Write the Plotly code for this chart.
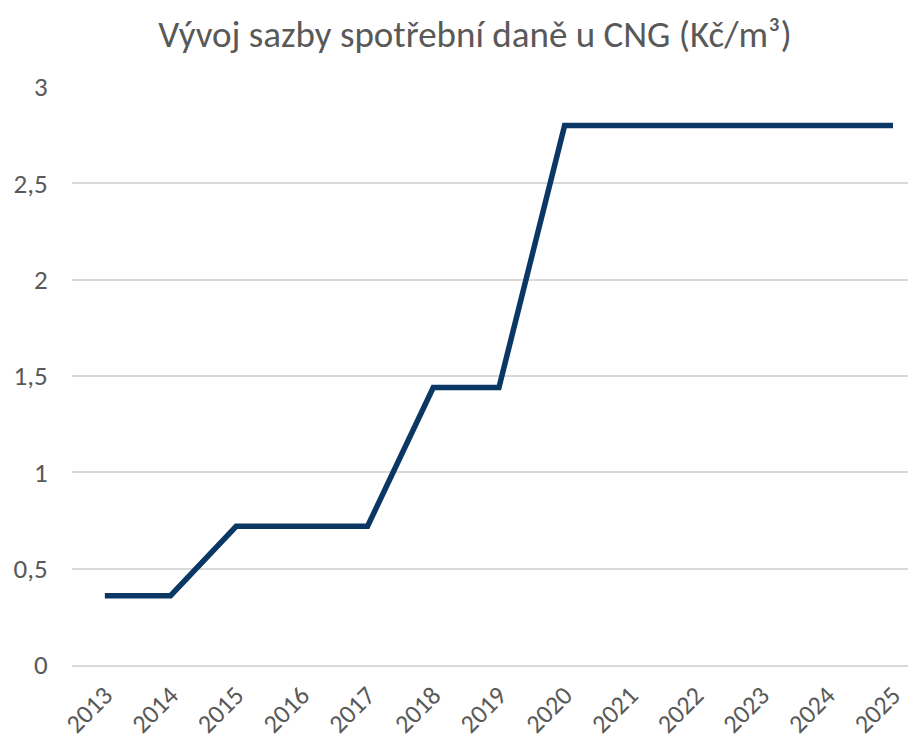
import plotly.graph_objects as go

years = ["2013", "2014", "2015", "2016", "2017", "2018", "2019",
         "2020", "2021", "2022", "2023", "2024", "2025"]
rates = [0.36, 0.36, 0.72, 0.72, 0.72, 1.44, 1.44,
         2.80, 2.80, 2.80, 2.80, 2.80, 2.80]
y_ticks = [0, 0.5, 1, 1.5, 2, 2.5, 3]
y_tick_text = ["0", "0,5", "1", "1,5", "2", "2,5", "3"]

FONT = "Carlito, 'Liberation Sans Narrow', 'DejaVu Sans Condensed', Roboto, sans-serif"
GRAY = "#595959"
GRID = "#d9d9d9"

# page is rendered with an 8px body margin; figure is 908x733 starting at (8,8)
W, H = 908, 733

fig = go.Figure()
fig.add_trace(go.Scatter(
    x=years, y=rates, mode="lines",
    line=dict(color="#0b3764", width=5.5),
    hoverinfo="x+y",
))

fig.update_layout(
    width=W, height=H,
    margin=dict(l=64, r=0, t=79, b=76),
    paper_bgcolor="white", plot_bgcolor="white",
    showlegend=False,
    font=dict(family=FONT, color=GRAY, size=27),
    title=dict(
        text="Vývoj sazby spotřební daně u CNG (Kč/m³)",
        x=467 / W, xanchor="center", xref="container",
        y=1 - 26 / H, yanchor="middle", yref="container",
        font=dict(family=FONT, color=GRAY, size=37),
    ),
    xaxis=dict(
        type="category", range=[-0.5, 12.35], automargin=False,
        showgrid=False, zeroline=False,
        showline=True, linecolor=GRID, linewidth=1.5,
        tickangle=-45, ticks="outside", ticklen=3, tickcolor="rgba(0,0,0,0)",
        tickfont=dict(size=26, color=GRAY, family=FONT),
    ),
    yaxis=dict(
        range=[0, 3], tickvals=y_ticks, ticktext=y_tick_text, automargin=False,
        showgrid=True, gridcolor=GRID, gridwidth=1.5,
        zeroline=False, showline=False,
        ticks="outside", ticklen=18, tickcolor="rgba(0,0,0,0)",
        tickfont=dict(size=27, color=GRAY, family=FONT),
    ),
)

fig.write_html("out.html")
